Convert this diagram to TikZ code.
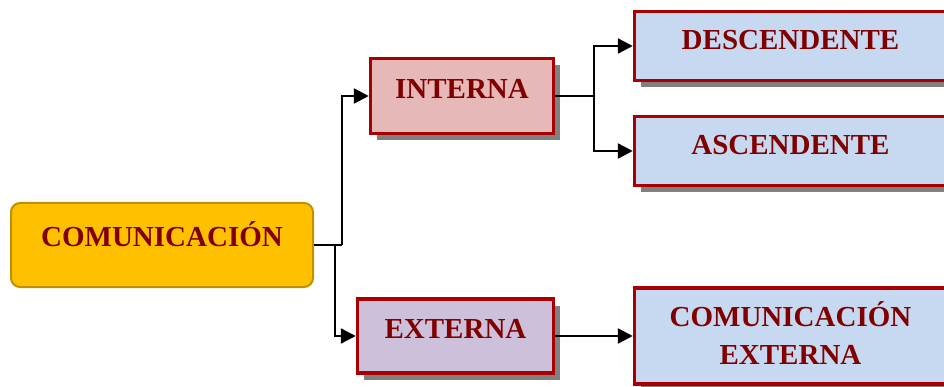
\documentclass[tikz,border=0pt]{standalone}
\usepackage{fontspec}
\setmainfont{Liberation Serif}
\usetikzlibrary{arrows.meta,shadows}
\definecolor{txtred}{HTML}{800000}
\definecolor{boxred}{HTML}{A80000}
\definecolor{comfill}{HTML}{FFC000}
\definecolor{comdraw}{HTML}{BF9000}
\definecolor{intfill}{HTML}{E6B8B7}
\definecolor{extfill}{HTML}{CCC0DA}
\definecolor{bluefill}{HTML}{C6D9F1}
\definecolor{shadowgray}{HTML}{808080}
\tikzset{
  lbl/.style={text=txtred, font=\bfseries\fontsize{29}{37}\selectfont, inner sep=0pt, text height=20pt, text depth=0pt},
  redbox/.style={lbl, draw=boxred, line width=3.5pt,
    drop shadow={shadow xshift=6.5pt, shadow yshift=-6.5pt, fill=shadowgray, opacity=1}},
  combox/.style={lbl, draw=comdraw, line width=2pt, fill=comfill, rounded corners=9pt},
  conn/.style={line width=2.4pt, -{Triangle[length=15pt,width=15pt]}},
  plain/.style={line width=2.4pt},
}
\begin{document}
\begin{tikzpicture}[x=1pt,y=-1pt]
\useasboundingbox (0,0) rectangle (944,387);
\node[combox, minimum width=302pt, minimum height=84pt] (com) at (162,245) {\raisebox{9pt}{COMUNICACIÓN}};
\node[redbox, fill=intfill, minimum width=183pt, minimum height=75pt] (int) at (462,96) {\raisebox{7.5pt}{INTERNA}};
\node[redbox, fill=bluefill, minimum width=312pt, minimum height=69pt] (desc) at (790.5,46) {\raisebox{6.5pt}{DESCENDENTE}};
\node[redbox, fill=bluefill, minimum width=312pt, minimum height=69pt] (asc) at (790.5,151) {\raisebox{6pt}{ASCENDENTE}};
\node[redbox, fill=extfill, minimum width=196pt, minimum height=74pt] (ext) at (455.5,336) {\raisebox{8pt}{EXTERNA}};
\node[redbox, fill=bluefill, minimum width=312pt, minimum height=96pt, align=center, text height=57pt, text depth=0pt] (ce) at (790.5,336) {\raisebox{1pt}{COMUNICACIÓN}\\EXTERNA};
\coordinate (ja) at (342,245);
\coordinate (jb) at (335,245);
\coordinate (jc) at (594,96);
\draw[plain] (com.east) -- (ja);
\draw[conn] (ja) |- (int.west);
\draw[conn] (jb) |- (ext.west);
\draw[plain] (int.east) -- (jc);
\draw[conn] (jc) |- (desc.west);
\draw[conn] (jc) |- (asc.west);
\draw[conn] (ext.east) -- (ce.west);
\end{tikzpicture}
\end{document}
